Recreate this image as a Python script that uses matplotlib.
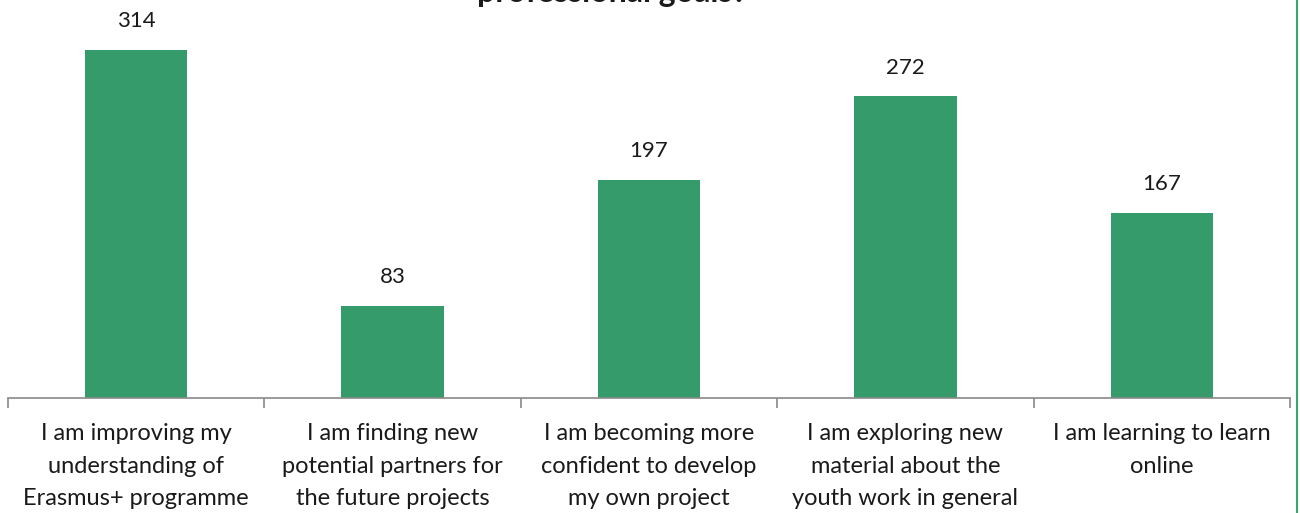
import matplotlib.pyplot as plt
from matplotlib.lines import Line2D

categories = [
    "I am improving my\nunderstanding of\nErasmus+ programme",
    "I am finding new\npotential partners for\nthe future projects",
    "I am becoming more\nconfident to develop\nmy own project",
    "I am exploring new\nmaterial about the\nyouth work in general",
    "I am learning to learn\nonline",
]
values = [314, 83, 197, 272, 167]

bar_color = "#359b6a"
plt.rcParams["font.family"] = ["Lato", "DejaVu Sans"]

fig = plt.figure(figsize=(13, 5.13), dpi=100)
ax = fig.add_axes([8 / 1300, 1 - 398 / 513, 1282 / 1300, 398 / 513])

x = list(range(len(values)))
bars = ax.bar(x, values, width=0.4, color=bar_color)
for xi, v in zip(x, values):
    ax.text(xi, v + 17, str(v), ha="center", va="bottom", fontsize=16, color="#1a1a1a")

ax.set_xlim(-0.5, len(values) - 0.5)
ax.set_ylim(0, 359)
ax.set_yticks([])
ax.set_xticks([i - 0.5 for i in range(len(values) + 1)])
ax.set_xticklabels([])
ax.set_xticks(x, minor=True)
ax.set_xticklabels(categories, minor=True, fontsize=17, color="#1a1a1a", linespacing=1.68)
ax.tick_params(axis="x", which="major", length=7, color="#898989", width=1.2)
ax.tick_params(axis="x", which="minor", length=0, pad=18)
for s in ["top", "right", "left"]:
    ax.spines[s].set_visible(False)
ax.spines["bottom"].set_color("#898989")
ax.spines["bottom"].set_linewidth(1.2)

# title cut at the top edge
fig.text(612 / 1300, 1 - 2 / 513, "professional goals?", ha="center", va="baseline",
         fontsize=23, fontweight="bold", color="#1a1a1a")

# green frame line on the right
fig.add_artist(Line2D([1297 / 1300, 1297 / 1300], [0, 1], color="#3aa56f", lw=1.5))

fig.savefig("out.png", dpi=100)
